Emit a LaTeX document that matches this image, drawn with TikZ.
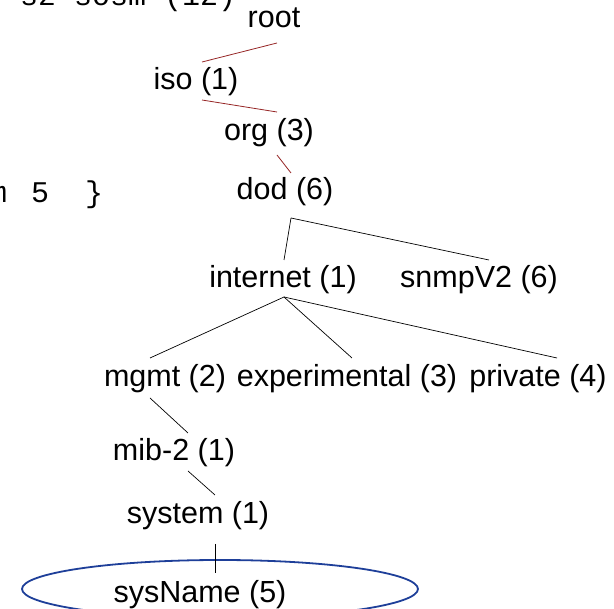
\documentclass[tikz,border=0pt]{standalone}
\usepackage{fontspec}
\setmainfont{Liberation Sans}
\newfontfamily\monofnt{Liberation Mono}
\definecolor{darkredln}{HTML}{962626}
\definecolor{ellblue}{HTML}{1E3F99}
\begin{document}
\begin{tikzpicture}[x=1pt,y=-1pt,
  lbl/.style={font=\fontsize{30.5}{36}\selectfont, inner sep=0pt, anchor=base},
  frag/.style={font=\monofnt\fontsize{30}{36}\selectfont, inner sep=0pt, anchor=base west},
  redln/.style={draw=darkredln, line width=0.8pt},
  blkln/.style={draw=black, line width=0.7pt}]
\useasboundingbox (0,0) rectangle (614,609);
\clip (0,0) rectangle (614,609);
% clipped fragments of neighbouring text
\node[frag] (fragtop) at (-16,6) {) sz sosm (12)};
\node[frag] (fragmid) at (-137,203) {\{ system\hspace{6pt} 5\ \ \}};
% ellipse
\draw[ellblue, line width=1.8pt] (220,589) ellipse [x radius=198, y radius=29];
% tree nodes
\node[lbl] (root) at (274,28) {root};
\node[lbl] (iso) at (196,90) {iso (1)};
\node[lbl] (org) at (269,141) {org (3)};
\node[lbl] (dod) at (285,200) {dod (6)};
\node[lbl] (internet) at (283,288) {internet (1)};
\node[lbl] (snmp) at (479,288) {snmpV2 (6)};
\node[lbl] (mgmt) at (165,387) {mgmt (2)};
\node[lbl] (exp) at (347,387) {experimental (3)};
\node[lbl] (priv) at (538,387) {private (4)};
\node[lbl] (mib) at (174,461) {mib-2 (1)};
\node[lbl] (system) at (198,524) {system (1)};
\node[lbl] (sysname) at (200,603) {sysName (5)};
% connectors
\draw[redln] ([shift={(3,15)}]root.base) -- ([shift={(6,-28)}]iso.base);
\draw[redln] ([shift={(6,10)}]iso.base) -- ([shift={(8,-29)}]org.base);
\draw[redln] ([shift={(8,14)}]org.base) -- ([shift={(6,-27)}]dod.base);
\draw[blkln] ([shift={(6,18)}]dod.base) -- ([shift={(1,-28)}]internet.base);
\draw[blkln] ([shift={(6,18)}]dod.base) -- ([shift={(10,-28)}]snmp.base);
\draw[blkln] ([shift={(1,9)}]internet.base) -- ([shift={(-15,-29)}]mgmt.base);
\draw[blkln] ([shift={(1,9)}]internet.base) -- ([shift={(5,-29)}]exp.base);
\draw[blkln] ([shift={(1,9)}]internet.base) -- ([shift={(19,-29)}]priv.base);
\draw[blkln] ([shift={(-15,11)}]mgmt.base) -- ([shift={(14,-28)}]mib.base);
\draw[blkln] ([shift={(14,10)}]mib.base) -- ([shift={(17,-29)}]system.base);
\draw[blkln] ([shift={(17,20)}]system.base) -- ([shift={(15,-30)}]sysname.base);
\end{tikzpicture}
\end{document}
